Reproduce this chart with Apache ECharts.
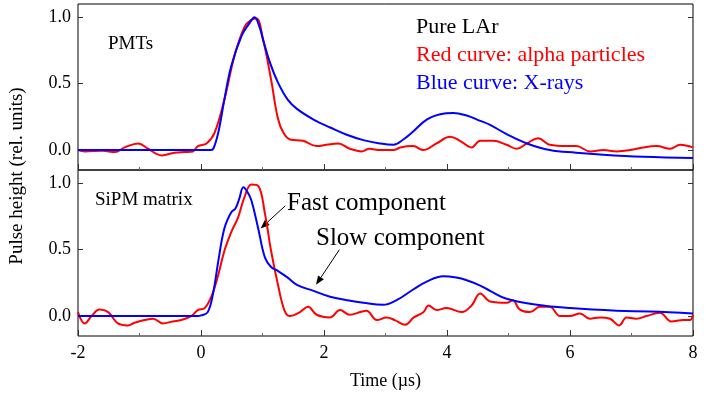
<!DOCTYPE html>
<html>
<head>
<meta charset="utf-8">
<script src="https://cdn.jsdelivr.net/npm/echarts@6/dist/echarts.min.js"></script>
<style>
  html, body { margin: 0; padding: 0; background: #fff; }
  #chart { width: 706px; height: 393px; }
</style>
</head>
<body>
<div id="chart"></div>
<script>
// axes
const timeMin = -2, timeMax = 8, timeStep = 2;
const yMin = -0.15, yMax = 1.1;
const yTicks = [0, 0.5, 1.0];

// PMTs, alpha particles (red)
const pmtAlphaT = [-2, -1.89, -1.6, -1.4, -1.24, -1.02, -0.86, -0.64, -0.43, -0.27, -0.13, -0.05, 0.09, 0.22, 0.38, 0.55, 0.71, 0.82, 0.9, 1.01, 1.14, 1.25, 1.34, 1.45, 1.66, 1.88, 2.04, 2.23, 2.42, 2.61, 2.74, 2.91, 3.13, 3.24, 3.45, 3.61, 3.83, 4.05, 4.21, 4.40, 4.54, 4.75, 4.97, 5.13, 5.3, 5.48, 5.67, 5.95, 6.1, 6.33, 6.54, 6.76, 6.98, 7.19, 7.41, 7.63, 7.79, 8.0];
const pmtAlphaV = [0.0, -0.01, -0.005, -0.015, 0.02, 0.05, 0.01, -0.04, -0.02, -0.015, -0.01, 0.03, 0.05, 0.13, 0.38, 0.72, 0.93, 0.98, 0.99, 0.83, 0.53, 0.24, 0.13, 0.08, 0.07, 0.03, 0.04, 0.05, 0.01, -0.01, 0.01, 0.0, 0.0, 0.02, 0.03, 0.0, 0.05, 0.1, 0.07, 0.02, 0.07, 0.07, 0.04, 0.01, 0.05, 0.09, 0.04, 0.03, 0.03, -0.01, 0.0, -0.01, 0.0, 0.02, 0.03, 0.01, 0.04, 0.02];

// PMTs, X-rays (blue)
const pmtXrayT = [-2, 0.15, 0.2, 0.28, 0.38, 0.49, 0.66, 0.78, 0.87, 0.95, 1.01, 1.12, 1.25, 1.41, 1.56, 1.83, 2.1, 2.37, 2.64, 2.91, 3.13, 3.29, 3.45, 3.67, 3.89, 4.1, 4.32, 4.54, 4.7, 4.97, 5.3, 5.67, 6.1, 6.54, 7.19, 8.0];
const pmtXrayV = [0, 0, 0.01, 0.13, 0.38, 0.63, 0.86, 0.95, 1.0, 0.93, 0.83, 0.66, 0.51, 0.38, 0.31, 0.23, 0.17, 0.115, 0.075, 0.05, 0.04, 0.08, 0.14, 0.23, 0.27, 0.28, 0.26, 0.22, 0.19, 0.12, 0.05, 0.0, -0.02, -0.035, -0.05, -0.06];

// SiPM matrix, alpha particles (red)
const sipmAlphaT = [-2, -1.89, -1.78, -1.65, -1.51, -1.35, -1.19, -1.08, -0.92, -0.78, -0.62, -0.46, -0.32, -0.16, -0.05, 0.06, 0.18, 0.28, 0.38, 0.49, 0.6, 0.71, 0.82, 0.93, 1.04, 1.14, 1.25, 1.36, 1.45, 1.61, 1.74, 1.88, 2.1, 2.26, 2.42, 2.59, 2.69, 2.86, 3.02, 3.15, 3.32, 3.46, 3.62, 3.70, 3.83, 3.99, 4.24, 4.4, 4.54, 4.7, 4.97, 5.07, 5.18, 5.35, 5.51, 5.67, 5.84, 6.0, 6.16, 6.32, 6.49, 6.65, 6.8, 6.92, 7.08, 7.24, 7.46, 7.65, 7.84, 7.95, 8.0];
const sipmAlphaV = [0.03, -0.055, 0.0, 0.05, 0.03, -0.055, -0.07, -0.05, -0.03, -0.02, -0.055, -0.04, -0.03, 0.0, 0.045, 0.06, 0.16, 0.31, 0.49, 0.63, 0.74, 0.9, 0.99, 0.98, 0.77, 0.49, 0.24, 0.04, 0.0, 0.03, 0.07, 0.01, -0.01, 0.045, 0.01, 0.03, 0.04, -0.03, -0.01, -0.03, -0.065, -0.01, 0.03, 0.08, 0.045, 0.06, 0.03, 0.08, 0.17, 0.11, 0.1, 0.12, 0.05, 0.03, 0.07, 0.07, 0.0, 0.0, 0.02, -0.02, -0.01, -0.02, -0.07, -0.01, -0.02, 0.0, 0.025, -0.04, -0.03, -0.03, 0.01];

// SiPM matrix, X-rays (blue)
const sipmXrayT = [-2, -0.05, 0.0, 0.11, 0.2, 0.28, 0.38, 0.49, 0.56, 0.62, 0.69, 0.76, 0.82, 0.93, 1.04, 1.14, 1.25, 1.41, 1.56, 1.83, 2.1, 2.37, 2.64, 2.96, 3.18, 3.45, 3.67, 3.94, 4.15, 4.32, 4.54, 4.7, 4.97, 5.46, 6.0, 6.76, 7.3, 8.0];
const sipmXrayV = [0, 0, 0.005, 0.03, 0.18, 0.41, 0.66, 0.78, 0.81, 0.88, 0.97, 0.93, 0.87, 0.66, 0.44, 0.37, 0.34, 0.29, 0.235, 0.19, 0.145, 0.12, 0.1, 0.085, 0.12, 0.2, 0.26, 0.3, 0.29, 0.27, 0.23, 0.19, 0.13, 0.085, 0.06, 0.04, 0.035, 0.02];

const serif = '"Liberation Serif", "Times New Roman", serif';
const zip = (t, v) => t.map((x, i) => [x, v[i]]);

const chart = echarts.init(document.getElementById('chart'));

function xAxisFor(gridIndex, showLabel) {
  return {
    type: 'value', gridIndex: gridIndex,
    min: timeMin, max: timeMax, interval: timeStep,
    axisLine: { show: false, onZero: false },
    axisTick: { show: true, inside: true, length: 6, lineStyle: { color: '#333' } },
    minorTick: { show: true, splitNumber: 2, length: 3, lineStyle: { color: '#666' } },
    splitLine: { show: false },
    axisLabel: { show: showLabel, color: '#000', fontFamily: serif, fontSize: 18, margin: 8 },
    name: showLabel ? 'Time (\u00b5s)' : '',
    nameLocation: 'middle', nameGap: 36,
    nameTextStyle: { color: '#000', fontFamily: serif, fontSize: 18 }
  };
}

function yAxisFor(gridIndex, pos) {
  return {
    type: 'value', gridIndex: gridIndex, position: pos,
    min: yMin, max: yMax,
    axisLine: { show: false, onZero: false },
    axisTick: { show: true, inside: true, length: 5, customValues: yTicks, lineStyle: { color: '#333' } },
    splitLine: { show: false },
    axisLabel: {
      show: pos === 'left', customValues: yTicks, color: '#000',
      fontFamily: serif, fontSize: 18, margin: 7,
      formatter: v => v.toFixed(1)
    }
  };
}

function lineSeries(t, v, color, xi, yi) {
  return {
    type: 'line', data: zip(t, v), xAxisIndex: xi, yAxisIndex: yi,
    showSymbol: false, smooth: 0.4,
    lineStyle: { color: color, width: 2 }, itemStyle: { color: color },
    silent: true, animation: false
  };
}

const option = {
  animation: false,
  grid: [
    { left: 78, right: 13, top: 4, height: 166, show: true, borderColor: '#000', borderWidth: 1 },
    { left: 78, right: 13, top: 170, height: 166, show: true, borderColor: '#000', borderWidth: 1 }
  ],
  xAxis: [xAxisFor(0, false), xAxisFor(1, true)],
  yAxis: [yAxisFor(0, 'left'), yAxisFor(0, 'right'), yAxisFor(1, 'left'), yAxisFor(1, 'right')],
  series: [
    lineSeries(pmtAlphaT, pmtAlphaV, '#ff0000', 0, 0),
    lineSeries(pmtXrayT, pmtXrayV, '#0000ff', 0, 0),
    lineSeries(sipmAlphaT, sipmAlphaV, '#ff0000', 1, 2),
    lineSeries(sipmXrayT, sipmXrayV, '#0000ff', 1, 2)
  ]
};
chart.setOption(option);

function txt(text, x, y, size, color) {
  return { type: 'text', x: x, y: y, silent: true,
    style: { text: text, fill: color, font: size + 'px ' + serif, verticalAlign: 'middle' } };
}

// arrow from tail to tip, given in data coordinates of the lower panel
function arrow(tail, tip) {
  const a = chart.convertToPixel({ gridIndex: 1 }, tail);
  const b = chart.convertToPixel({ gridIndex: 1 }, tip);
  const ang = Math.atan2(b[1] - a[1], b[0] - a[0]);
  const hl = 9, hw = 3.5;
  const bx = b[0] - hl * Math.cos(ang), by = b[1] - hl * Math.sin(ang);
  return [
    { type: 'line', silent: true, shape: { x1: a[0], y1: a[1], x2: bx, y2: by }, style: { stroke: '#000', lineWidth: 1 } },
    { type: 'polygon', silent: true, shape: { points: [
      [b[0], b[1]],
      [bx + hw * Math.sin(ang), by - hw * Math.cos(ang)],
      [bx - hw * Math.sin(ang), by + hw * Math.cos(ang)]
    ] }, style: { fill: '#000' } }
  ];
}

const yTitle = {
  type: 'text', x: 17, y: 176, rotation: Math.PI / 2, silent: true,
  style: { text: 'Pulse height (rel. units)', fill: '#000', font: '19px ' + serif, align: 'center', verticalAlign: 'middle' }
};

chart.setOption({
  graphic: [
    yTitle,
    txt('PMTs', 108, 44, 19, '#000'),
    txt('SiPM matrix', 95, 200, 19, '#000'),
    txt('Pure LAr', 416, 27, 22, '#000'),
    txt('Red curve: alpha particles', 416, 55, 22, '#ff0000'),
    txt('Blue curve: X-rays', 416, 83, 22, '#0000ff'),
    txt('Fast component', 287, 203, 25, '#000'),
    txt('Slow component', 316, 238, 25, '#000')
  ].concat(arrow([1.37, 0.83], [0.97, 0.66]), arrow([2.25, 0.5], [1.87, 0.235]))
});
</script>
</body>
</html>
